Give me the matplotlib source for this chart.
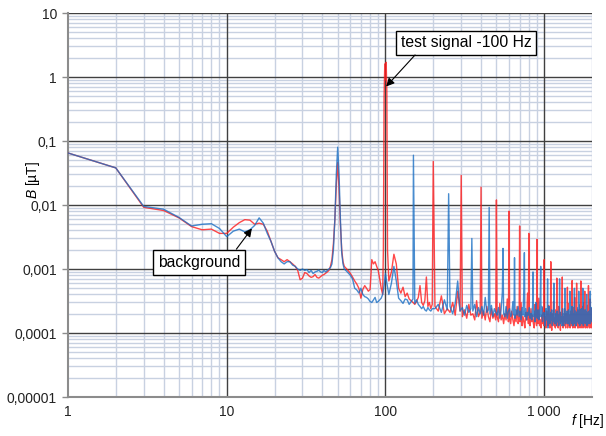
import numpy as np
import matplotlib
matplotlib.use("Agg")
import matplotlib.pyplot as plt
from matplotlib.ticker import FixedLocator, LogLocator, NullFormatter

plt.rcParams['font.family'] = ['Liberation Sans', 'DejaVu Sans']
plt.rcParams['mathtext.fontset'] = 'custom'
plt.rcParams['mathtext.it'] = 'Liberation Sans:italic'
plt.rcParams['mathtext.rm'] = 'Liberation Sans'

# 1 Hz bins, 1..55 Hz
low_f = list(range(1, 56))
red_low = [0.065, 0.038, 0.0092, 0.0082, 0.0063, 0.0046, 0.0041, 0.0042, 0.0036, 0.0036,
           0.0045, 0.0053, 0.0059, 0.0058, 0.0050, 0.0052, 0.0050, 0.0039, 0.0027, 0.0019,
           0.0015, 0.0014, 0.0013, 0.0014, 0.0013, 0.0012, 0.0011, 0.00095, 0.00068, 0.00072,
           0.00088, 0.00085, 0.00078, 0.00074, 0.00076, 0.00082, 0.00074, 0.00072, 0.00076, 0.0008,
           0.00082, 0.00086, 0.0009, 0.00095, 0.0011, 0.0014, 0.0025, 0.006, 0.02, 0.046,
           0.018, 0.005, 0.002, 0.0013, 0.0011]
blue_low = [0.065, 0.038, 0.0095, 0.0086, 0.0064, 0.0047, 0.0050, 0.0051, 0.0043, 0.0032,
            0.0039, 0.0042, 0.0038, 0.0041, 0.0048, 0.0063, 0.0052, 0.0036, 0.0027, 0.0019,
            0.0015, 0.0013, 0.0012, 0.0013, 0.0013, 0.00115, 0.0011, 0.001, 0.00095, 0.001,
            0.00095, 0.00098, 0.00088, 0.00095, 0.00085, 0.0009, 0.00092, 0.00096, 0.0009, 0.00088,
            0.00095, 0.0009, 0.00095, 0.001, 0.00105, 0.0012, 0.002, 0.006, 0.03, 0.08,
            0.03, 0.006, 0.0018, 0.0012, 0.001]

# 55..105 Hz
red_mid_f = [57, 60, 62, 64, 66, 68, 70, 72, 74, 76, 78, 80, 82, 84, 86, 88, 90, 92, 94, 96,
             97, 98, 99, 100, 101, 102, 103]
red_mid_b = [0.001, 0.00086, 0.00075, 0.00065, 0.00058, 0.0005, 0.00035, 0.00048, 0.00055, 0.0005,
             0.00045, 0.00048, 0.0014, 0.0012, 0.0013, 0.0011, 0.00095, 0.0007, 0.0005, 0.0004,
             0.002, 0.5, 1.6, 0.9, 1.7, 0.6, 0.002]
blue_mid_f = [57, 60, 62, 64, 66, 68, 70, 72, 74, 76, 78, 80, 82, 84, 86, 88, 90, 92, 94, 96,
              98, 100, 102]
blue_mid_b = [0.00092, 0.0008, 0.0007, 0.0005, 0.00047, 0.00042, 0.0005, 0.0004, 0.00037, 0.00036,
              0.00034, 0.00031, 0.0003, 0.00033, 0.00036, 0.0003, 0.00031, 0.00033, 0.00035, 0.0004,
              0.00055, 0.00085, 0.0006]

# noise floor above 100 Hz, in units of 1e-4 uT
# 105..197 Hz, 4 Hz steps
red_a = [6.5, 9.0, 17.0, 12.0, 5.0, 4.2, 5.2, 3.7, 4.2, 3.4, 3.2, 3.0, 2.8, 3.1, 3.6, 5.5,
         3.0, 2.7, 3.2, 7.5, 2.6, 3.0, 2.4, 2.8]
blue_a = [4.0, 6.0, 11.0, 6.5, 3.5, 3.2, 2.9, 3.4, 3.3, 2.8, 3.1, 3.4, 2.9, 3.3, 2.8, 2.6,
          2.4, 2.6, 2.3, 2.2, 2.5, 2.3, 2.2, 2.4]
# 205..995 Hz, 10 Hz steps
red_b = [2.6, 2.2, 3.8, 2.0, 2.4, 2.1, 3.0, 1.9, 4.5, 2.2,
         1.8, 2.3, 1.7, 2.8, 1.9, 2.0, 1.6, 3.2, 1.8, 2.1,
         1.7, 2.2, 1.6, 2.6, 1.8, 1.5, 2.4, 1.7, 2.0, 1.6,
         1.8, 1.5, 2.9, 1.6, 1.9, 1.4, 2.0, 1.6, 3.4, 1.5,
         1.7, 1.4, 2.2, 1.6, 1.3, 1.9, 1.5, 2.6, 1.4, 1.7,
         1.5, 3.0, 1.3, 1.8, 1.5, 1.2, 2.1, 1.6, 4.2, 1.4,
         1.7, 1.3, 2.4, 1.5, 1.9, 1.4, 1.2, 2.8, 1.6, 1.3,
         1.8, 1.4, 3.5, 1.3, 1.6, 1.2, 1.9, 1.4, 2.5, 1.3]
blue_b = [2.4, 2.8, 2.1, 3.3, 2.3, 2.6, 2.0, 2.9, 6.5, 2.2,
          2.5, 1.9, 2.7, 2.1, 2.4, 2.2, 2.8, 1.8, 2.5, 2.0,
          2.6, 1.9, 3.6, 2.1, 2.3, 2.0, 2.7, 1.8, 2.4, 2.1,
          1.9, 2.5, 1.7, 2.3, 4.4, 2.0, 1.8, 2.6, 1.7, 2.2,
          2.4, 1.8, 2.0, 3.1, 1.9, 1.7, 2.3, 1.9, 2.6, 1.8,
          2.2, 1.6, 2.5, 1.9, 5.2, 1.8, 2.4, 1.6, 2.1, 1.9,
          2.5, 1.7, 2.0, 1.6, 2.8, 1.8, 2.2, 1.5, 3.0, 1.9,
          1.7, 2.3, 1.6, 2.0, 4.0, 1.8, 2.6, 1.5, 1.9, 2.1]
# 1005..1995 Hz, 10 Hz steps
red_c = [1.4, 1.8, 1.2, 2.2, 1.5, 1.3, 2.7, 1.6, 1.2, 1.9,
         1.5, 1.1, 2.0, 1.4, 3.1, 1.3, 1.7, 1.2, 2.3, 1.5,
         1.3, 1.9, 1.2, 2.6, 1.4, 1.6, 1.1, 2.1, 1.5, 3.3,
         1.4, 1.2, 1.8, 1.3, 2.4, 1.5, 1.2, 2.0, 1.4, 1.7,
         1.2, 2.9, 1.4, 1.3, 1.9, 1.2, 2.2, 1.5, 1.3, 1.8,
         1.4, 1.2, 2.5, 1.3, 1.6, 3.6, 1.2, 1.8, 1.4, 2.1,
         1.3, 1.7, 1.2, 2.3, 1.4, 1.2, 1.9, 1.5, 2.8, 1.3,
         1.2, 2.0, 1.4, 1.3, 2.6, 1.2, 1.6, 1.4, 3.0, 1.3,
         1.5, 1.2, 2.2, 1.4, 1.3, 1.8, 1.2, 2.7, 1.4, 1.6,
         1.3, 2.1, 1.2, 1.5, 3.4, 1.3, 1.8, 1.2, 2.4, 1.5]
blue_c = [1.8, 1.3, 2.4, 1.6, 2.0, 1.2, 1.7, 2.6, 1.4, 2.1,
          1.6, 2.3, 1.3, 1.9, 1.5, 2.8, 1.4, 2.0, 1.6, 1.3,
          2.2, 1.5, 1.9, 1.3, 2.5, 1.6, 2.1, 1.4, 1.8, 1.3,
          2.4, 1.6, 1.3, 2.0, 1.5, 2.7, 1.4, 1.9, 1.6, 2.2,
          1.4, 1.8, 2.3, 1.5, 1.3, 2.1, 1.6, 1.9, 1.4, 2.6,
          1.7, 1.3, 2.0, 1.5, 2.4, 1.4, 1.8, 2.2, 1.3, 1.9,
          2.1, 1.5, 1.7, 2.5, 1.4, 2.0, 1.6, 1.3, 2.3, 1.5,
          1.8, 2.4, 1.4, 1.9, 1.6, 2.2, 1.3, 2.0, 1.5, 1.7,
          2.3, 1.4, 1.8, 1.5, 2.6, 1.3, 1.9, 1.6, 2.1, 1.4,
          1.7, 2.2, 1.5, 1.9, 1.4, 2.4, 1.6, 1.8, 2.5, 1.5]

# harmonic lines
red_peak_f = [200, 300, 400, 500, 600, 700, 800, 900, 1000, 1100, 1200, 1300, 1400, 1500,
              1600, 1700, 1800, 1900]
red_peak_b = [0.048, 0.029, 0.019, 0.012, 0.008, 0.0047, 0.0036, 0.0029, 0.0014, 0.0013,
              0.00072, 0.00075, 0.00052, 0.00066, 0.0006, 0.00065, 0.00045, 0.00055]
blue_peak_f = [150, 250, 350, 450, 550, 650, 750, 850, 950, 1050, 1150, 1250, 1350, 1450,
               1550, 1650, 1750, 1850, 1950]
blue_peak_b = [0.06, 0.015, 0.003, 0.0092, 0.0021, 0.0015, 0.0018, 0.0009, 0.0011, 0.0007,
               0.0006, 0.0007, 0.0005, 0.00045, 0.0005, 0.00045, 0.0005, 0.0004, 0.00045]

x_ticks = [1, 10, 100, 1000]
x_labels = ['1', '10', '100', '1\u2009000']
y_ticks = [1e-5, 1e-4, 1e-3, 1e-2, 1e-1, 1, 10]
y_labels = ['0,00001', '0,0001', '0,001', '0,01', '0,1', '1', '10']


def build(low_b, mid_f, mid_b, a, b, c, pk_f, pk_b):
    f = np.concatenate([low_f, mid_f, np.arange(105, 198, 4), np.arange(205, 1000, 10),
                        np.arange(1005, 2000, 10), pk_f]).astype(float)
    v = np.concatenate([low_b, mid_b, np.array(a) * 1e-4, np.array(b) * 1e-4,
                        np.array(c) * 1e-4, pk_b])
    order = np.argsort(f, kind='stable')
    return f[order], v[order]


red_f, red_v = build(red_low, red_mid_f, red_mid_b, red_a, red_b, red_c, red_peak_f, red_peak_b)
blue_f, blue_v = build(blue_low, blue_mid_f, blue_mid_b, blue_a, blue_b, blue_c,
                       blue_peak_f, blue_peak_b)

fig = plt.figure(figsize=(6.06, 4.36), dpi=100)
ax = fig.add_axes([68 / 606, 1 - 397 / 436, 524 / 606, 384 / 436])

ax.plot(red_f, red_v, color='#ff1a1a', lw=1.0, alpha=0.8, zorder=3)
ax.plot(blue_f, blue_v, color='#1a6fc4', lw=1.0, alpha=0.8, zorder=3)

ax.set_xscale('log')
ax.set_yscale('log')
ax.set_xlim(1, 2000)
ax.set_ylim(1e-5, 10)

ax.xaxis.set_major_locator(FixedLocator(x_ticks))
ax.set_xticklabels(x_labels)
ax.yaxis.set_major_locator(FixedLocator(y_ticks))
ax.set_yticklabels(y_labels)
ax.xaxis.set_minor_locator(LogLocator(base=10, subs=range(2, 10), numticks=20))
ax.yaxis.set_minor_locator(LogLocator(base=10, subs=range(2, 10), numticks=20))
ax.xaxis.set_minor_formatter(NullFormatter())
ax.yaxis.set_minor_formatter(NullFormatter())

# light minor grid underneath, dark decade lines on top of it
ax.set_axisbelow(True)
ax.grid(which='minor', color='#c8d1e1', lw=1.0)
for xv in x_ticks[1:]:
    ax.axvline(xv, color='#404040', lw=1.0, zorder=1)
for yv in y_ticks[1:]:
    ax.axhline(yv, color='#404040', lw=1.0, zorder=1)

for s in ['top', 'right']:
    ax.spines[s].set_visible(False)
for s in ['left', 'bottom']:
    ax.spines[s].set_color('#8c8c8c')
    ax.spines[s].set_linewidth(1.5)

ax.tick_params(axis='y', which='major', length=4, width=1, color='#8c8c8c', pad=4,
               labelsize=10, labelcolor='#222222')
ax.tick_params(axis='x', which='major', length=0, pad=6, labelsize=10, labelcolor='#222222')
ax.tick_params(which='minor', length=0)

fig.text(33 / 606, 1 - 180 / 436, r'$B$ [µT]', rotation=90, ha='center', va='center',
         fontsize=10)
fig.text(604 / 606, 1 - 421 / 436, r'$f$ [Hz]', ha='right', va='center', fontsize=10)

box = dict(boxstyle='square,pad=0.3', fc='white', ec='black', lw=1.0)
arrow = dict(arrowstyle='-|>', color='black', lw=0.8, shrinkA=0, shrinkB=0, mutation_scale=12)
ax.text(321, 3.42, 'test signal -100 Hz', ha='center', va='center', fontsize=11.3, bbox=box,
        zorder=5)
ax.annotate('', xy=(101, 0.71), xytext=(153.6, 2.21), arrowprops=arrow, zorder=5)
ax.text(6.71, 0.00126, 'background', ha='center', va='center', fontsize=11.3, bbox=box,
        zorder=5)
ax.annotate('', xy=(14.4, 0.0043), xytext=(11.5, 0.00204), arrowprops=arrow, zorder=5)

fig.savefig('out.png', dpi=100)
